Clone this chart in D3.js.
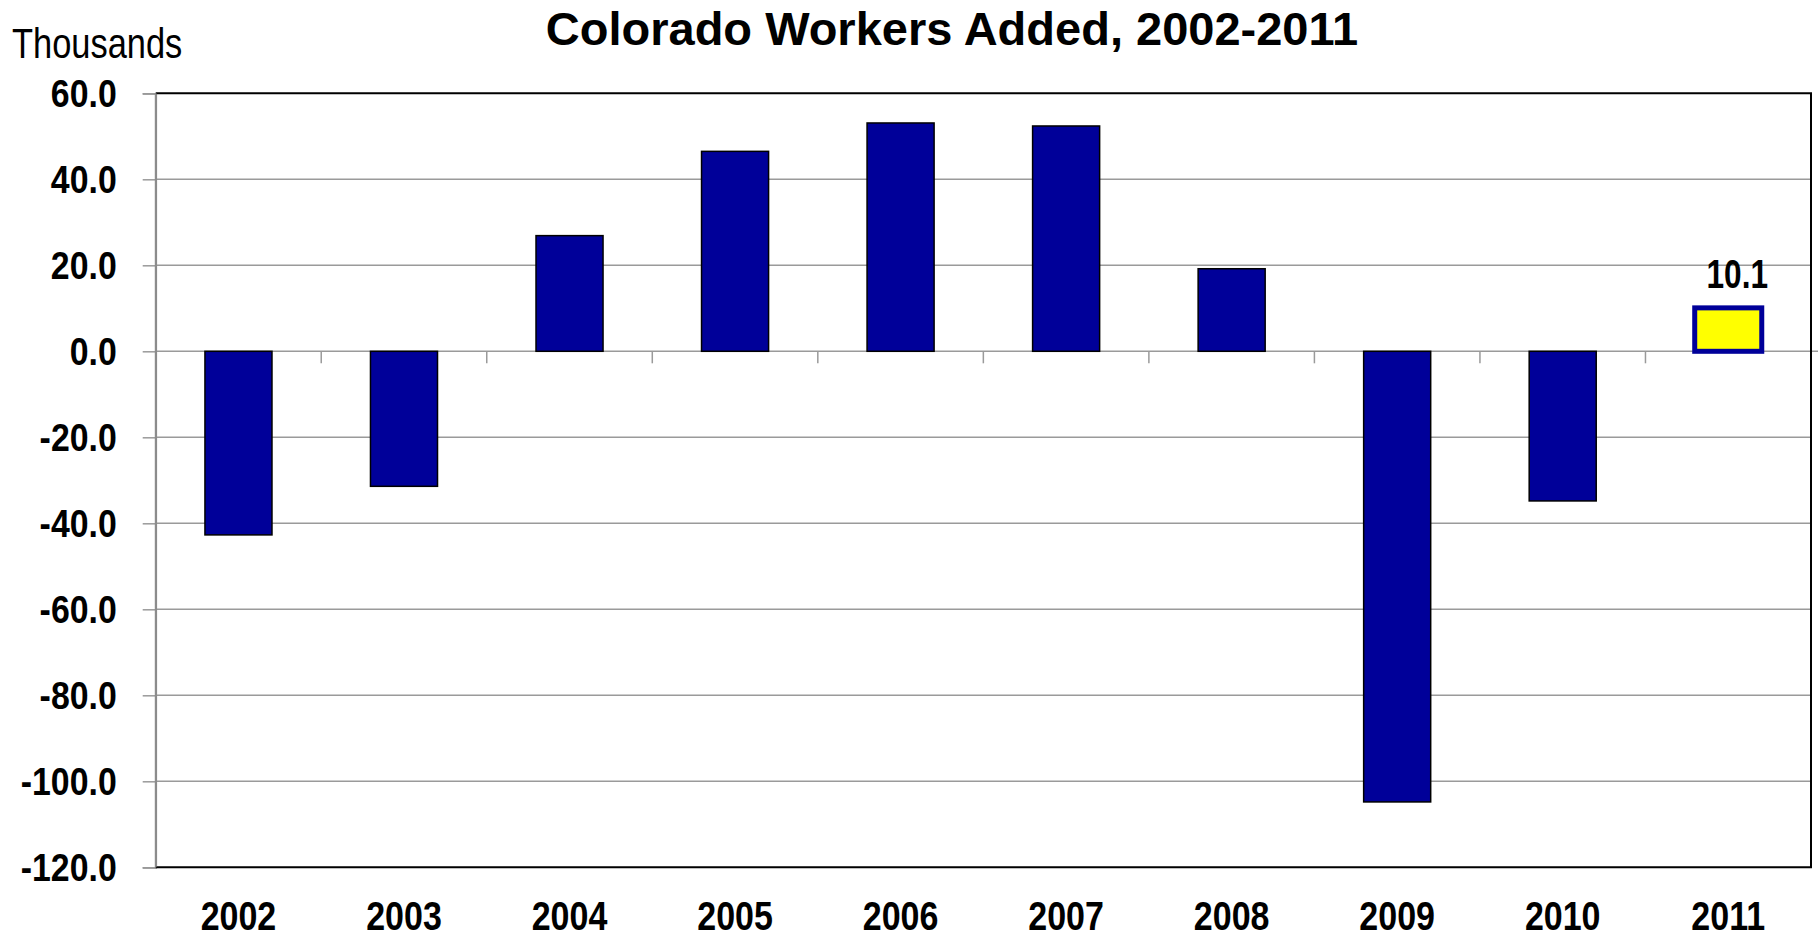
<!DOCTYPE html>
<html>
<head>
<meta charset="utf-8">
<script src="https://cdn.jsdelivr.net/npm/d3@7"></script>
<style>
  html, body { margin: 0; padding: 0; background: #fff; }
  svg { display: block; }
  text { font-family: "Liberation Sans", Arial, sans-serif; }
</style>
</head>
<body>
<svg id="chart" width="1818" height="939"></svg>
<script>
const categories = ["2002","2003","2004","2005","2006","2007","2008","2009","2010","2011"];
const values = [-42.7, -31.4, 26.9, 46.5, 53.1, 52.4, 19.2, -104.8, -34.8, 10.1];
const yTicks = [60, 40, 20, 0, -20, -40, -60, -80, -100, -120];
const highlightLabel = "10.1";
const titleText = "Colorado Workers Added, 2002-2011";
const unitText = "Thousands";

(function () {
const W = 1818, H = 939;
const pLeft = 155.7, pRight = 1811, pTop = 93.3, pBottom = 867.3;

const svg = d3.select("#chart");
const fmt = d3.formatLocale({decimal: ".", thousands: ",", grouping: [3], currency: ["$", ""], minus: "-"}).format(".1f");

const x = d3.scaleBand().domain(categories).range([pLeft, pRight]).paddingInner(0.595).paddingOuter(0.2975);
const xb = d3.scaleBand().domain(categories).range([pLeft, pRight]).padding(0);
const y = d3.scaleLinear().domain([-120, 60]).range([pBottom, pTop]);

// gridlines
svg.append("g").selectAll("line").data(yTicks.filter(t => t !== 60 && t !== -120)).join("line")
  .attr("x1", pLeft).attr("x2", t => t === 0 ? W : pRight)
  .attr("y1", d => y(d)).attr("y2", d => y(d))
  .attr("stroke", "#9a9a9a").attr("stroke-width", 1.5);

// y axis
const yAxis = d3.axisLeft(y).tickValues(yTicks).tickFormat(fmt).tickSize(13).tickPadding(26);
const gy = svg.append("g").attr("transform", `translate(${pLeft},0)`).call(yAxis);
gy.select(".domain").attr("stroke", "#8c8c8c").attr("stroke-width", 1.8);
gy.selectAll(".tick line").attr("stroke", "#9a9a9a").attr("stroke-width", 1.5);
gy.selectAll(".tick text")
  .attr("font-family", "Liberation Sans, Arial, sans-serif")
  .attr("font-size", 38).attr("font-weight", "bold")
  .attr("fill", "#000").attr("dy", "0.36em")
  .attr("x", 0).attr("transform", "translate(-39,0) scale(0.89,1)");

// category boundary ticks on zero line
const bounds = categories.slice(1).map(c => xb(c)).concat([pRight]);
svg.append("g").selectAll("line").data(bounds).join("line")
  .attr("x1", d => d).attr("x2", d => d)
  .attr("y1", y(0)).attr("y2", y(0) + 12)
  .attr("stroke", "#9a9a9a").attr("stroke-width", 1.5);

// frame: top, right, bottom
svg.append("path")
  .attr("d", `M${pLeft},${pTop}H${pRight}V${pBottom}H${pLeft}`)
  .attr("fill", "none").attr("stroke", "#000").attr("stroke-width", 2);
svg.append("line").attr("x1", pLeft).attr("x2", pLeft).attr("y1", pTop).attr("y2", pBottom)
  .attr("stroke", "#8c8c8c").attr("stroke-width", 1.8);

// bars
const last = categories.length - 1;
svg.append("g").selectAll("rect").data(values).join("rect")
  .attr("x", (d, i) => x(categories[i]))
  .attr("width", x.bandwidth())
  .attr("y", d => y(Math.max(0, d)))
  .attr("height", d => Math.abs(y(d) - y(0)))
  .attr("fill", (d, i) => i === last ? "#ffff00" : "#000099")
  .attr("stroke", (d, i) => i === last ? "#000099" : "#000")
  .attr("stroke-width", (d, i) => i === last ? 5 : 1.5);

// value label for last bar
svg.append("text")
  .attr("transform", `translate(${x(categories[last]) + x.bandwidth() / 2 + 9},${y(values[last]) - 20}) scale(0.77,1)`)
  .attr("text-anchor", "middle").attr("font-size", 41).attr("font-weight", "bold")
  .text(highlightLabel);

// x labels
svg.append("g").selectAll("text").data(categories).join("text")
  .attr("transform", d => `translate(${xb(d) + xb.bandwidth() / 2},930) scale(0.85,1)`)
  .attr("text-anchor", "middle").attr("font-size", 40).attr("font-weight", "bold")
  .text(d => d);

// title
svg.append("text")
  .attr("x", 952).attr("y", 45)
  .attr("text-anchor", "middle")
  .attr("font-size", 47).attr("font-weight", "bold")
  .text(titleText);

// unit label
svg.append("text")
  .attr("transform", "translate(12,58) scale(0.82,1)")
  .attr("font-size", 42)
  .text(unitText);
})();
</script>
</body>
</html>
